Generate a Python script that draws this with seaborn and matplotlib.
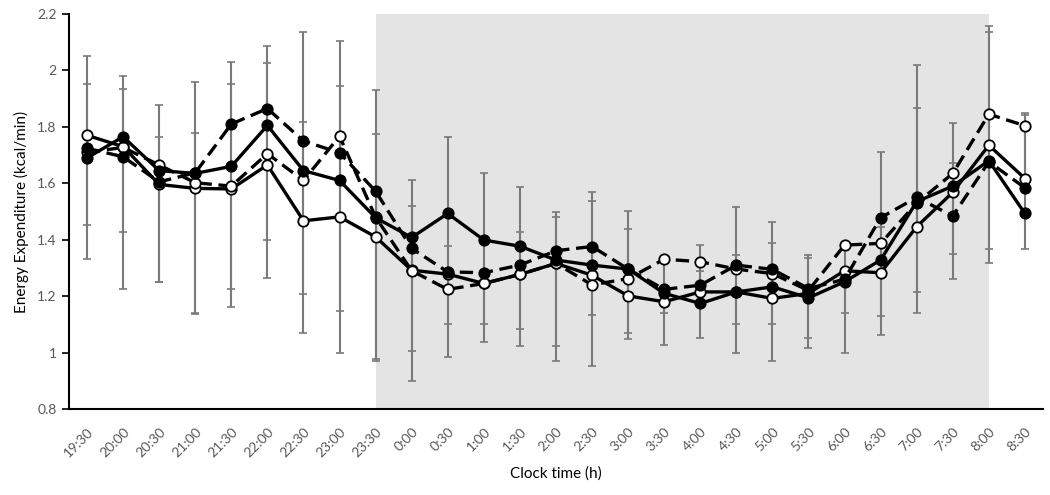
import matplotlib
matplotlib.use("Agg")
import matplotlib.pyplot as plt
import numpy as np
import seaborn as sns

# clock times on the x axis
times = ["19:30", "20:00", "20:30", "21:00", "21:30", "22:00", "22:30", "23:00", "23:30",
         "0:00", "0:30", "1:00", "1:30", "2:00", "2:30", "3:00", "3:30", "4:00", "4:30",
         "5:00", "5:30", "6:00", "6:30", "7:00", "7:30", "8:00", "8:30"]

# mean energy expenditure (kcal/min)
solid_filled = [1.69, 1.765, 1.645, 1.635, 1.66, 1.805, 1.645, 1.61, 1.478, 1.408, 1.493, 1.399, 1.377,
                1.328, 1.31, 1.296, 1.21, 1.174, 1.215, 1.233, 1.194, 1.251, 1.328, 1.535, 1.59, 1.68, 1.493]
solid_open = [1.77, 1.73, 1.596, 1.582, 1.58, 1.665, 1.467, 1.481, 1.41, 1.292, 1.278, 1.245, 1.277,
              1.316, 1.274, 1.201, 1.18, 1.215, 1.215, 1.192, 1.21, 1.29, 1.283, 1.446, 1.568, 1.735, 1.617]
dashed_filled = [1.724, 1.694, 1.605, 1.637, 1.81, 1.865, 1.75, 1.708, 1.572, 1.369, 1.286, 1.283, 1.31,
                 1.361, 1.376, 1.296, 1.224, 1.239, 1.31, 1.295, 1.227, 1.26, 1.478, 1.55, 1.484, 1.676, 1.584]
dashed_open = [1.71, 1.727, 1.665, 1.602, 1.59, 1.705, 1.61, 1.767, 1.48, 1.29, 1.224, 1.245, 1.277,
               1.316, 1.24, 1.262, 1.331, 1.322, 1.296, 1.28, 1.22, 1.381, 1.387, 1.53, 1.635, 1.845, 1.804]

# error bar cap levels
cap_hi1 = [2.052, 1.981, 1.876, 1.959, 2.029, 2.087, 2.137, 2.104, 1.930, 1.611, 1.764, 1.637, 1.587,
           1.499, 1.568, 1.502, 1.331, 1.382, 1.517, 1.464, 1.345, 1.363, 1.710, 2.019, 1.815, 2.157, 1.850]
cap_hi2 = [1.953, 1.934, 1.765, 1.780, 1.951, 2.026, 1.818, 1.946, 1.773, 1.519, 1.377, 1.283, 1.429,
           1.479, 1.537, 1.439, 1.224, 1.290, 1.345, 1.387, 1.336, 1.290, 1.446, 1.866, 1.671, 2.137, 1.841]
cap_lo1 = [1.451, 1.427, 1.250, 1.142, 1.226, 1.398, 1.208, 1.149, 0.976, 1.006, 1.101, 1.101, 1.083,
           1.022, 1.133, 1.068, 1.141, 1.215, 1.101, 1.103, 1.050, 1.139, 1.129, 1.213, 1.349, 1.366, 1.600]
cap_lo2 = [1.330, 1.226, 1.249, 1.135, 1.160, 1.266, 1.068, 0.999, 0.971, 0.900, 0.983, 1.036, 1.022,
           0.971, 0.954, 1.048, 1.026, 1.052, 1.000, 0.969, 1.017, 0.999, 1.062, 1.141, 1.260, 1.316, 1.366]

night_start = "23:30"
night_end = "8:00"

sns.set_style("white")
plt.rcParams["font.family"] = ["Lato", "DejaVu Sans"]

x = np.arange(len(times))
a = np.array(solid_filled)
b = np.array(solid_open)

fig = plt.figure(figsize=(10.5, 4.95), dpi=100)
ax = fig.add_axes([0.0657, 0.1737, 0.9276, 0.798])

# shaded sleep period
ax.axvspan(times.index(night_start), times.index(night_end), color="#e4e4e4", zorder=0, lw=0)

# error bars
err_kw = dict(fmt="none", ecolor="#7a7a7a", elinewidth=1.5, capsize=3.2, capthick=1.2, zorder=1)
ax.errorbar(x, a, yerr=[a - np.array(cap_lo2), np.array(cap_hi1) - a], **err_kw)
ax.errorbar(x, b, yerr=[b - np.array(cap_lo1), np.array(cap_hi2) - b], **err_kw)

line_kw = dict(color="black", marker="o", markersize=7.5, markeredgecolor="black",
               markeredgewidth=1.3, linewidth=2.4, ax=ax, zorder=3)
sns.lineplot(x=x, y=solid_open, markerfacecolor="white", **line_kw)
sns.lineplot(x=x, y=dashed_open, markerfacecolor="white", linestyle=(0, (4, 2)), **line_kw)
sns.lineplot(x=x, y=solid_filled, markerfacecolor="black", **line_kw)
sns.lineplot(x=x, y=dashed_filled, markerfacecolor="black", linestyle=(0, (4, 2)), **line_kw)

ax.set_xlim(-0.5, len(times) - 0.5)
ax.set_ylim(0.8, 2.2)
yt = np.arange(0.8, 2.21, 0.2)
ax.set_yticks(yt)
ax.set_yticklabels([f"{v:g}" for v in np.round(yt, 1)], color="#595959", fontsize=10)
ax.set_xticks(x)
ax.set_xticklabels(times, rotation=45, ha="right", rotation_mode="anchor", color="#595959", fontsize=10)
ax.tick_params(axis="y", direction="out", length=5, width=1.2, color="black", pad=4, left=True)
ax.tick_params(axis="x", length=0, pad=12)

for side in ["top", "right"]:
    ax.spines[side].set_visible(False)
for side in ["left", "bottom"]:
    ax.spines[side].set_color("black")
    ax.spines[side].set_linewidth(1.5)

ax.set_xlabel("Clock time (h)", fontsize=11, color="black", labelpad=5)
ax.set_ylabel("Energy Expenditure (kcal/min)", fontsize=11, color="black", labelpad=6)

fig.savefig("out.png", dpi=100)
